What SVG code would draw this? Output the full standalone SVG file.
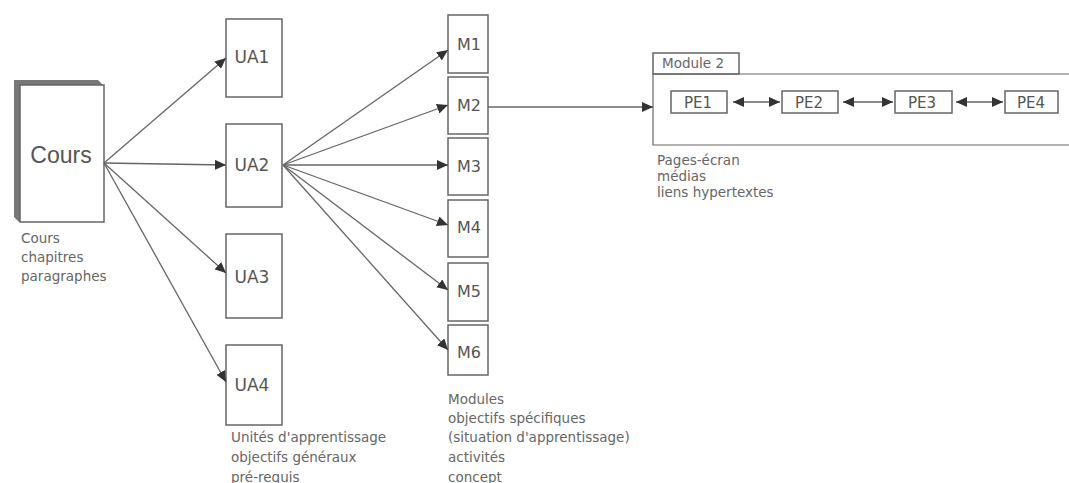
<svg xmlns="http://www.w3.org/2000/svg" width="1069" height="483" viewBox="0 0 1069 483">
<style>
.box{fill:#fff;stroke:#666;stroke-width:1.5}
.lbl{font-family:"DejaVu Sans",Verdana,sans-serif;fill:#555;text-anchor:middle}
.cap{font-family:"DejaVu Sans",Verdana,sans-serif;fill:#666;font-size:13.5px}
.edge{stroke:#666;stroke-width:1.3;fill:none}
</style>
<defs>
<marker id="ah" markerUnits="userSpaceOnUse" markerWidth="12" markerHeight="10" refX="11" refY="5" orient="auto-start-reverse">
<path d="M0,0 L11,5 L0,10 z" fill="#333"/>
</marker>
</defs>
<rect width="1069" height="483" fill="#fff"/>

<g id="cours">
<polygon points="14,80 98,80 104,86 104,222 19,222 14,217" fill="#777"/>
<rect class="box" x="20" y="85" width="84" height="137"/>
<text x="61" y="163" font-size="23" font-family="Liberation Sans, Arial, sans-serif" fill="#555" text-anchor="middle">Cours</text>
<text class="cap" x="21" y="243">Cours</text>
<text class="cap" x="21" y="262">chapitres</text>
<text class="cap" x="21" y="281">paragraphes</text>
</g>

<g id="ua1"><rect class="box" x="226" y="19" width="56" height="78"/><text class="lbl" x="252" y="63" font-size="17">UA1</text></g>
<g id="ua2"><rect class="box" x="226" y="124" width="56" height="83"/><text class="lbl" x="252" y="171" font-size="17">UA2</text></g>
<g id="ua3"><rect class="box" x="226" y="234" width="56" height="84"/><text class="lbl" x="252" y="283" font-size="17">UA3</text></g>
<g id="ua4"><rect class="box" x="226" y="345" width="56" height="80"/><text class="lbl" x="252" y="391" font-size="17">UA4</text>
<text class="cap" x="231" y="442">Unités d'apprentissage</text>
<text class="cap" x="231" y="462">objectifs généraux</text>
<text class="cap" x="231" y="482">pré-requis</text>
</g>

<g id="m1"><rect class="box" x="448" y="15" width="40" height="58"/><text class="lbl" x="469" y="50" font-size="16">M1</text></g>
<g id="m2"><rect class="box" x="448" y="77" width="40" height="57"/><text class="lbl" x="469" y="111" font-size="16">M2</text></g>
<g id="m3"><rect class="box" x="448" y="138" width="40" height="57"/><text class="lbl" x="469" y="172" font-size="16">M3</text></g>
<g id="m4"><rect class="box" x="448" y="200" width="40" height="57"/><text class="lbl" x="469" y="233" font-size="16">M4</text></g>
<g id="m5"><rect class="box" x="448" y="263" width="40" height="58"/><text class="lbl" x="469" y="297" font-size="16">M5</text></g>
<g id="m6"><rect class="box" x="448" y="325" width="40" height="50"/><text class="lbl" x="469" y="358" font-size="16">M6</text>
<text class="cap" x="448" y="404">Modules</text>
<text class="cap" x="448" y="423">objectifs spécifiques</text>
<text class="cap" x="448" y="442">(situation d'apprentissage)</text>
<text class="cap" x="448" y="462">activités</text>
<text class="cap" x="448" y="482">concept</text>
</g>

<g id="module2">
<rect class="box" x="653" y="53" width="86" height="21" stroke-width="1"/>
<text class="cap" x="662" y="68">Module 2</text>
<path d="M1072,74 H653 V145 H1072" fill="none" stroke="#666" stroke-width="1.2"/>
<text class="cap" x="657" y="165">Pages-écran</text>
<text class="cap" x="657" y="181">médias</text>
<text class="cap" x="657" y="197">liens hypertextes</text>
</g>
<g id="pe1"><rect class="box" x="671" y="91" width="56" height="22"/><text class="lbl" x="698" y="108" font-size="15">PE1</text></g>
<g id="pe2"><rect class="box" x="782" y="91" width="56" height="22"/><text class="lbl" x="809" y="108" font-size="15">PE2</text></g>
<g id="pe3"><rect class="box" x="895" y="91" width="57" height="22"/><text class="lbl" x="922" y="108" font-size="15">PE3</text></g>
<g id="pe4"><rect class="box" x="1005" y="91" width="53" height="22"/><text class="lbl" x="1031" y="108" font-size="15">PE4</text></g>

<g id="connectors" class="edge" marker-end="url(#ah)">
<line x1="104" y1="163" x2="226" y2="58"/>
<line x1="104" y1="163" x2="226" y2="165"/>
<line x1="104" y1="163" x2="226" y2="273"/>
<line x1="104" y1="163" x2="226" y2="382"/>
<line x1="283" y1="165" x2="448" y2="50"/>
<line x1="283" y1="165" x2="448" y2="105"/>
<line x1="283" y1="165" x2="448" y2="165"/>
<line x1="283" y1="165" x2="448" y2="225"/>
<line x1="283" y1="165" x2="448" y2="290"/>
<line x1="283" y1="165" x2="448" y2="350"/>
<line x1="488" y1="107" x2="653" y2="107"/>
<line x1="733" y1="102" x2="780" y2="102" marker-start="url(#ah)"/>
<line x1="843" y1="102" x2="893" y2="102" marker-start="url(#ah)"/>
<line x1="956" y1="102" x2="1003" y2="102" marker-start="url(#ah)"/>
</g>
</svg>
